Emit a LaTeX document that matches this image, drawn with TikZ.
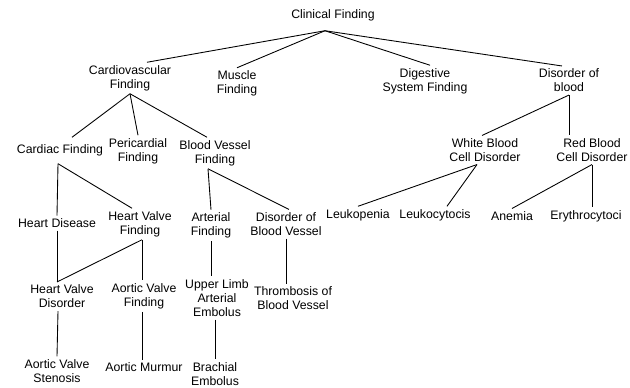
\documentclass[tikz,border=0pt]{standalone}
\usepackage{fontspec}
\setmainfont{Liberation Sans}
\usetikzlibrary{calc}
\tikzset{
  term/.style={align=center, inner sep=1.5pt, font=\fontsize{7pt}{8pt}\selectfont},
  link/.style={line width=0.5pt}
}
\begin{document}
\begin{tikzpicture}[x=0.02cm, y=-0.02cm]
  \useasboundingbox (0,0) rectangle (630,387);
  % level 0
  \node[term] (root) at (333,15) {Clinical Finding};
  % level 1
  \node[term] (cvf) at (130,78) {Cardiovascular\\Finding};
  \node[term] (mf) at (237,83.5) {Muscle\\Finding};
  \node[term] (dsf) at (425,81) {Digestive\\System Finding};
  \node[term] (dob) at (569,80.5) {Disorder of\\blood};
  % level 2
  \node[term] (cf) at (60,150) {Cardiac Finding};
  \node[term] (pf) at (138,151) {Pericardial\\Finding};
  \node[term] (bvf) at (215,153) {Blood Vessel\\Finding};
  \node[term] (wbc) at (485,150) {White Blood\\Cell Disorder};
  \node[term] (rbc) at (592,150) {Red Blood\\Cell Disorder};
  % level 3
  \node[term] (hd) at (57,223) {Heart Disease};
  \node[term] (hvf) at (140,224) {Heart Valve\\Finding};
  \node[term] (af) at (211,225.5) {Arterial\\Finding};
  \node[term] (dbv) at (286,224) {Disorder of\\Blood Vessel};
  \node[term] (leuk) at (358,215) {Leukopenia};
  \node[term] (leuc) at (435,215) {Leukocytocis};
  \node[term] (anem) at (512,216) {Anemia};
  \node[term] (ery) at (586,216) {Erythrocytoci};
  % level 4
  \node[term] (hvd) at (62,296.5) {Heart Valve\\Disorder};
  \node[term] (avf) at (144,296) {Aortic Valve\\Finding};
  \node[term] (ulae) at (217,298) {Upper Limb\\Arterial\\Embolus};
  \node[term] (tbv) at (293,298.5) {Thrombosis of\\Blood Vessel};
  % level 5
  \node[term] (avs) at (57,371) {Aortic Valve\\Stenosis};
  \node[term] (am) at (144,367) {Aortic Murmur};
  \node[term] (be) at (215,374) {Brachial\\Embolus};
  \coordinate (hub) at ($(root.south)+(-8,7)$);
  \begin{scope}[link]
    \draw (hub) -- ($(cvf.north)+(17,0)$);
    \draw (hub) -- (mf.north);
    \draw (hub) -- ($(dsf.north)+(5,0)$);
    \draw (hub) -- ($(dob.north)+(-7,0)$);
    \draw (cvf.south) -- ($(cf.north)+(12,-4)$);
    \draw (cvf.south) -- (pf.north);
    \draw (cvf.south) -- ($(bvf.north)+(-8,0)$);
    \draw (dob.south) -- ($(wbc.north)+(-3,0)$);
    \draw (dob.south) -- (dob.south |- rbc.north);
    \draw ($(cf.south)+(-2,5)$) -- (hd.north -| hd.south);
    \draw ($(cf.south)+(-2,5)$) -- ($(hvf.north)+(-8,0)$);
    \draw ($(bvf.south)+(-7,0)$) -- (af.north);
    \draw ($(bvf.south)+(-7,0)$) -- ($(dbv.north)+(3,0)$);
    \draw ($(wbc.south)+(-8,0)$) -- (leuk.north);
    \draw ($(wbc.south)+(-8,0)$) -- ($(leuc.north)+(12,0)$);
    \draw (rbc.south) -- (anem.north);
    \draw (rbc.south) -- (rbc.south |- ery.north);
    \draw (hd.south) -- ($(hvd.north)+(-5,0)$);
    \draw ($(hvf.south)+(2,0)$) -- ($(hvd.north)+(-5,0)$);
    \draw ($(hvf.south)+(2,0)$) -- ($(avf.north)+(-2,0)$);
    \draw (af.south) -- (af.south |- ulae.north);
    \draw (dbv.south) -- (dbv.south |- tbv.north);
    \draw ($(hvd.south)+(-4,0)$) -- (avs.north);
    \draw ($(avf.south)+(-2,0)$) -- ($(am.north)+(-2,0)$);
    \draw (be.north |- ulae.south) -- (be.north);
  \end{scope}
\end{tikzpicture}
\end{document}
